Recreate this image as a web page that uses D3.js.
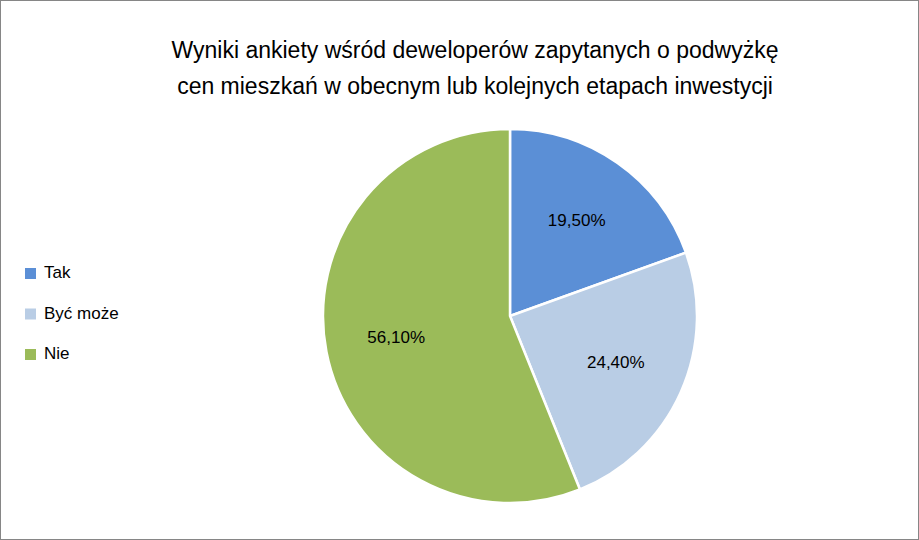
<!DOCTYPE html>
<html><head><meta charset="utf-8">
<script src="https://cdn.jsdelivr.net/npm/d3@7"></script>
<style>body{margin:0;background:#fff}</style></head>
<body><svg id="c" width="919" height="540"></svg>
<script>
const categories = ["Tak", "Być może", "Nie"];
const values = [19.5, 24.4, 56.1];
const labels = ["19,50%", "24,40%", "56,10%"];
const colors = ["#5B8FD6", "#B9CDE5", "#9BBB59"];
const titleLines = ["Wyniki ankiety  wśród deweloperów zapytanych o podwyżkę", "cen mieszkań w obecnym lub kolejnych etapach inwestycji"];

const svg = d3.select("#c");
const font = "'Liberation Sans', Arial, sans-serif";
svg.append("rect").attr("x",0.5).attr("y",0.5).attr("width",918).attr("height",539)
  .attr("fill","#fff").attr("stroke","#868686");
svg.selectAll("text.t").data(titleLines).enter().append("text")
  .attr("x",475).attr("y",(d,i)=>58+i*36).attr("text-anchor","middle")
  .attr("font-family",font).attr("font-size",23).attr("fill","#000").text(d=>d);

const cx=510, cy=316, r=187;
const pie = d3.pie().sort(null)(values);
const arc = d3.arc().innerRadius(0).outerRadius(r);
const g = svg.append("g").attr("transform",`translate(${cx},${cy})`);
g.selectAll("path").data(pie).enter().append("path")
  .attr("d",arc).attr("fill",(d,i)=>colors[i]).attr("stroke","#fff").attr("stroke-width",2.5);
const la = d3.arc().innerRadius(r*0.62).outerRadius(r*0.62);
g.selectAll("text").data(pie).enter().append("text")
  .attr("transform",d=>`translate(${la.centroid(d)})`)
  .attr("text-anchor","middle").attr("dominant-baseline","middle")
  .attr("font-family",font).attr("font-size",17).attr("fill","#000")
  .text((d,i)=>labels[i]);

const lg = svg.append("g");
categories.forEach((c,i)=>{
  const y = 274 + i*40.5;
  lg.append("rect").attr("x",25).attr("y",y-6).attr("width",11).attr("height",11).attr("fill",colors[i]);
  lg.append("text").attr("x",44).attr("y",y).attr("dominant-baseline","middle")
    .attr("font-family",font).attr("font-size",17).text(c);
});
</script></body></html>
